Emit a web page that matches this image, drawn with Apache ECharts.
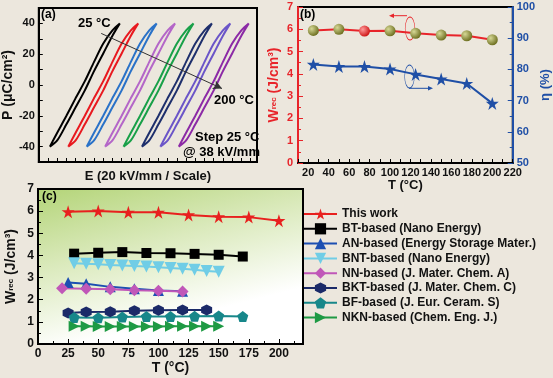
<!DOCTYPE html>
<html><head><meta charset="utf-8">
<script src="https://cdn.jsdelivr.net/npm/echarts@6/dist/echarts.min.js"></script>
<style>html,body{margin:0;padding:0;background:#ece7dd;}#c{width:553px;height:378px;}</style>
</head><body><div id="c"></div><script>
// ---------- Panel (a): P-E loops ----------
const loopTemps = [25, 50, 75, 100, 125, 150, 175, 200];
const loopOffsets = [0, 20, 40, 60, 80, 100, 120, 140];           // display shift (kV/mm) per loop
const loopE = [-38, -30, -20, -10, 0, 10, 20, 30, 38];
const loopPAsc = [-40, -36, -25.5, -14.5, -3.5, 9, 20.5, 32, 40];
const loopPDesc = [-40, -31, -20, -8.5, 2.5, 15, 27, 35.5, 40];
const loopColors = ['#000000', '#e8191f', '#2a72c8', '#b466c8', '#18a048', '#1e2f6c', '#6b55c8', '#8c2aa6'];
const arrowA = [[17.8, 33.5], [149, -2.3]];

// ---------- Panel (b) ----------
const tempB = [25, 50, 75, 100, 125, 150, 175, 200];
const wrecB = [5.95, 6.0, 5.92, 5.93, 5.82, 5.74, 5.71, 5.53];
const etaB = [81.6, 80.9, 80.9, 80.1, 78.4, 76.9, 75.5, 69.1];

// ---------- Panel (c) ----------
const thisWorkT = [25, 50, 75, 100, 125, 150, 175, 200];
const thisWorkW = [5.97, 6.01, 5.95, 5.95, 5.83, 5.75, 5.73, 5.57];
const btT = [30, 50, 70, 90, 110, 130, 150, 170];
const btW = [4.08, 4.12, 4.15, 4.11, 4.10, 4.07, 4.03, 3.95];
const anT = [25, 40, 60, 80, 100, 120];
const anW = [2.78, 2.72, 2.58, 2.50, 2.42, 2.38];
const bntT = [30, 40, 50, 60, 70, 80, 90, 100, 110, 120, 130, 140, 150];
const bntW = [3.65, 3.62, 3.60, 3.57, 3.55, 3.52, 3.50, 3.47, 3.43, 3.40, 3.35, 3.30, 3.26];
const nnT = [20, 40, 60, 80, 100, 120];
const nnW = [2.52, 2.50, 2.47, 2.43, 2.41, 2.37];
const bktT = [25, 40, 60, 80, 100, 120, 140];
const bktW = [1.40, 1.44, 1.46, 1.50, 1.52, 1.53, 1.53];
const bfT = [30, 50, 70, 90, 110, 130, 150, 170];
const bfW = [1.20, 1.18, 1.22, 1.24, 1.24, 1.25, 1.27, 1.24];
const nknT = [30, 40, 50, 60, 70, 80, 90, 100, 110, 120, 130, 140, 150];
const nknW = [0.80, 0.80, 0.79, 0.79, 0.79, 0.79, 0.79, 0.79, 0.80, 0.80, 0.80, 0.80, 0.80];
const refNames = ['This work', 'BT-based (Nano Energy)', 'AN-based (Energy Storage Mater.)', 'BNT-based (Nano Energy)',
  'NN-based (J. Mater. Chem. A)', 'BKT-based (J. Mater. Chem. C)', 'BF-based (J. Eur. Ceram. S)', 'NKN-based (Chem. Eng. J.)'];

const FF = 'Liberation Sans, Arial, sans-serif';
const STAR = 'path://M50,0 L61.2,34.5 L97.6,34.5 L68.2,55.9 L79.4,90.5 L50,69.1 L20.6,90.5 L31.8,55.9 L2.4,34.5 L38.8,34.5 Z';
const PENT = 'path://M50,0 L97.6,34.5 L79.4,90.5 L20.6,90.5 L2.4,34.5 Z';
const HEX = 'path://M50,0 L93.3,25 L93.3,75 L50,100 L6.7,75 L6.7,25 Z';

const zip = (a, b) => a.map((v, i) => [v, b[i]]);

const chart = echarts.init(document.getElementById('c'), null, {renderer: 'canvas'});

const series = [];
// loops
loopTemps.forEach((t, i) => {
  const off = loopOffsets[i];
  const pts = loopE.map((e, k) => [e + off, loopPAsc[k]]);
  for (let k = loopE.length - 2; k >= 0; k--) pts.push([loopE[k] + off, loopPDesc[k]]);
  const s = {
    type: 'line', xAxisIndex: 0, yAxisIndex: 0, name: 'loop' + t, data: pts, smooth: 0.3,
    showSymbol: false, lineStyle: {color: loopColors[i], width: 2}, itemStyle: {color: loopColors[i]}, silent: true
  };
  if (i === 0) {
    s.markLine = {silent: true, symbol: ['none', 'arrow'], symbolSize: [7, 9], label: {show: false},
      lineStyle: {color: '#333', width: 1, type: 'solid'},
      data: [[{coord: arrowA[0]}, {coord: arrowA[1]}]]};
  }
  series.push(s);
});
// panel b
series.push({
  type: 'line', name: 'wrecB', xAxisIndex: 1, yAxisIndex: 1,
  data: zip(tempB, wrecB).map((d, i) => ({value: d, itemStyle: {color: i === 2 ?
    {type: 'radial', x: 0.35, y: 0.35, r: 0.7, colorStops: [{offset: 0, color: '#ff9a9a'}, {offset: 1, color: '#cc1010'}]} :
    {type: 'radial', x: 0.35, y: 0.35, r: 0.7, colorStops: [{offset: 0, color: '#d6d896'}, {offset: 1, color: '#6a6c1c'}]}}})),
  symbol: 'circle', symbolSize: 11, lineStyle: {color: '#e8242a', width: 2}
});
series.push({
  type: 'line', name: 'etaB', xAxisIndex: 1, yAxisIndex: 2, data: zip(tempB, etaB),
  symbol: STAR, symbolSize: 13, itemStyle: {color: '#1f4fa6'}, lineStyle: {color: '#1f4fa6', width: 2}
});
// panel c
const cDefs = [
  [thisWorkT, thisWorkW, '#e8201e', STAR, 13, 0],
  [btT, btW, '#000000', 'rect', 10, 0],
  [anT, anW, '#1c4fb2', 'triangle', 11, 0],
  [bntT, bntW, '#70cde6', 'triangle', 12, 180],
  [nnT, nnW, '#c057b8', 'diamond', 12, 0],
  [bktT, bktW, '#1b2a68', HEX, 11, 0],
  [bfT, bfW, '#17878a', PENT, 11, 0],
  [nknT, nknW, '#1e9a44', 'triangle', 11, -90]
];
cDefs.forEach((d, i) => {
  series.push({
    type: 'line', name: refNames[i], xAxisIndex: 2, yAxisIndex: 3, data: zip(d[0], d[1]),
    symbol: d[3], symbolSize: d[4], symbolRotate: d[5], showAllSymbol: true,
    itemStyle: {color: d[2]}, lineStyle: {color: d[2], width: 2}
  });
});

const boldLbl = (size, color) => ({fontFamily: FF, fontWeight: 'bold', fontSize: size, color: color || '#111'});

const option = {
  backgroundColor: '#ece7dd',
  animation: false,
  textStyle: {fontFamily: FF},
  grid: [
    {left: 37, top: 8, width: 220, height: 154, show: true, borderColor: '#000', borderWidth: 2, backgroundColor: 'transparent'},
    {left: 298, top: 7, width: 219, height: 156, show: true, borderColor: '#000', borderWidth: 2, backgroundColor: 'transparent'},
    {left: 38, top: 189, width: 265, height: 155, show: true, borderColor: '#000', borderWidth: 2,
      backgroundColor: {type: 'linear', x: 0, y: 0, x2: 0.15, y2: 1, colorStops: [
        {offset: 0, color: '#b3d477'}, {offset: 0.5, color: '#dbeabd'}, {offset: 1, color: '#ffffff'}]}}
  ],
  xAxis: [
    {gridIndex: 0, type: 'value', min: -50, max: 187, interval: 10,
      axisLine: {onZero: false, lineStyle: {color: '#000', width: 2}}, axisTick: {inside: true, length: 4, lineStyle: {color: '#000'}},
      axisLabel: {show: false}, splitLine: {show: false},
      name: 'E (20 kV/mm / Scale)', nameLocation: 'middle', nameGap: 8,
      nameTextStyle: Object.assign(boldLbl(13), {verticalAlign: 'top'})},
    {gridIndex: 1, type: 'value', min: 10, max: 220, interval: 10,
      axisLine: {onZero: false, lineStyle: {color: '#000', width: 2}}, axisTick: {inside: true, length: 4, lineStyle: {color: '#000'}},
      axisLabel: Object.assign(boldLbl(11), {margin: 4, formatter: v => (v % 20 === 0 ? v : '')}),
      splitLine: {show: false},
      name: 'T (°C)', nameLocation: 'middle', nameGap: 12,
      nameTextStyle: Object.assign(boldLbl(13), {verticalAlign: 'top'})},
    {gridIndex: 2, type: 'value', min: 0, max: 220, interval: 25,
      axisLine: {onZero: false, lineStyle: {color: '#000', width: 2}}, axisTick: {inside: true, length: 5, lineStyle: {color: '#000'}},
      minorTick: {show: true, splitNumber: 2, length: 3, lineStyle: {color: '#000'}},
      axisLabel: Object.assign(boldLbl(12), {margin: 4, showMaxLabel: false, formatter: v => (v > 200 ? '' : v)}),
      splitLine: {show: false},
      name: 'T (°C)', nameLocation: 'middle', nameGap: 16,
      nameTextStyle: Object.assign(boldLbl(14), {verticalAlign: 'top'})}
  ],
  yAxis: [
    {gridIndex: 0, type: 'value', min: -50, max: 50, interval: 10,
      axisLine: {onZero: false, lineStyle: {color: '#000', width: 2}}, axisTick: {inside: true, length: 4, lineStyle: {color: '#000'}},
      axisLabel: Object.assign(boldLbl(11), {margin: 4, formatter: v => (v % 20 === 0 && Math.abs(v) < 50 ? v : '')}),
      splitLine: {show: false},
      name: 'P (μC/cm²)', nameLocation: 'middle', nameGap: 23, nameRotate: 90, nameTextStyle: boldLbl(14)},
    {gridIndex: 1, type: 'value', min: 0, max: 7, interval: 1, position: 'left',
      axisLine: {onZero: false, lineStyle: {color: '#e8242a', width: 2}}, axisTick: {inside: true, length: 5, lineStyle: {color: '#e8242a'}},
      minorTick: {show: true, splitNumber: 2, length: 3, lineStyle: {color: '#e8242a'}},
      axisLabel: Object.assign(boldLbl(11, '#e8242a'), {margin: 5}), splitLine: {show: false},
      name: '{w|W}{s|rec}{n| (J/cm³)}', nameLocation: 'middle', nameGap: 17, nameRotate: 90,
      nameTextStyle: {rich: {w: boldLbl(14, '#e8242a'), s: boldLbl(8, '#e8242a'), n: boldLbl(14, '#e8242a')}}},
    {gridIndex: 1, type: 'value', min: 50, max: 100, interval: 10, position: 'right',
      axisLine: {onZero: false, lineStyle: {color: '#1f4fa6', width: 2}}, axisTick: {inside: true, length: 5, lineStyle: {color: '#1f4fa6'}},
      minorTick: {show: true, splitNumber: 2, length: 3, lineStyle: {color: '#1f4fa6'}},
      axisLabel: Object.assign(boldLbl(11, '#1f4fa6'), {margin: 4}), splitLine: {show: false},
      name: 'η (%)', nameLocation: 'middle', nameGap: 22, nameRotate: 90, nameTextStyle: boldLbl(13, '#1f4fa6')},
    {gridIndex: 2, type: 'value', min: 0, max: 7, interval: 1,
      axisLine: {onZero: false, lineStyle: {color: '#000', width: 2}}, axisTick: {inside: true, length: 5, lineStyle: {color: '#000'}},
      minorTick: {show: true, splitNumber: 2, length: 3, lineStyle: {color: '#000'}},
      axisLabel: Object.assign(boldLbl(12), {margin: 4}), splitLine: {show: false},
      name: '{w|W}{s|rec}{n| (J/cm³)}', nameLocation: 'middle', nameGap: 20, nameRotate: 90,
      nameTextStyle: {rich: {w: boldLbl(14), s: boldLbl(8), n: boldLbl(14)}}}
  ],
  legend: {
    data: refNames, orient: 'vertical', left: 303, top: 208, itemWidth: 33, itemHeight: 14, itemGap: 2.8,
    textStyle: boldLbl(12), padding: 0
  },
  series: series,
  graphic: [
    {type: 'text', left: 41, top: 9, style: {text: '(a)', font: 'bold 12px ' + FF, fill: '#000'}},
    {type: 'text', left: 78, top: 17, style: {text: '25 °C', font: 'bold 13px ' + FF, fill: '#000'}},
    {type: 'text', left: 214, top: 94, style: {text: '200 °C', font: 'bold 13px ' + FF, fill: '#000'}},
    {type: 'text', left: 195, top: 131, style: {text: 'Step 25 °C', font: 'bold 13px ' + FF, fill: '#000'}},
    {type: 'text', left: 183, top: 146, style: {text: '@ 38 kV/mm', font: 'bold 13px ' + FF, fill: '#000'}},
    {type: 'text', left: 300, top: 9, style: {text: '(b)', font: 'bold 12px ' + FF, fill: '#000'}},
    {type: 'text', left: 42, top: 191, style: {text: '(c)', font: 'bold 12px ' + FF, fill: '#000'}},
    // panel b axis-pointer annotations
    {type: 'circle', shape: {cx: 0, cy: 0, r: 11.5}, x: 410, y: 28.5, scaleX: 0.42, scaleY: 1,
      style: {fill: 'none', stroke: '#e8242a', lineWidth: 1.2}},
    {type: 'line', shape: {x1: 407, y1: 15.7, x2: 392, y2: 15.7}, style: {stroke: '#e8242a', lineWidth: 1}},
    {type: 'polygon', shape: {points: [[389, 15.7], [394, 13.5], [394, 17.9]]}, style: {fill: '#e8242a'}},
    {type: 'circle', shape: {cx: 0, cy: 0, r: 11.5}, x: 409.5, y: 76.5, scaleX: 0.42, scaleY: 1,
      style: {fill: 'none', stroke: '#1f4fa6', lineWidth: 1.2}},
    {type: 'line', shape: {x1: 409, y1: 88.3, x2: 430, y2: 88.3}, style: {stroke: '#1f4fa6', lineWidth: 1}},
    {type: 'polygon', shape: {points: [[433, 88.3], [428, 86.1], [428, 90.5]]}, style: {fill: '#1f4fa6'}}
  ]
};
chart.setOption(option);
</script></body></html>
